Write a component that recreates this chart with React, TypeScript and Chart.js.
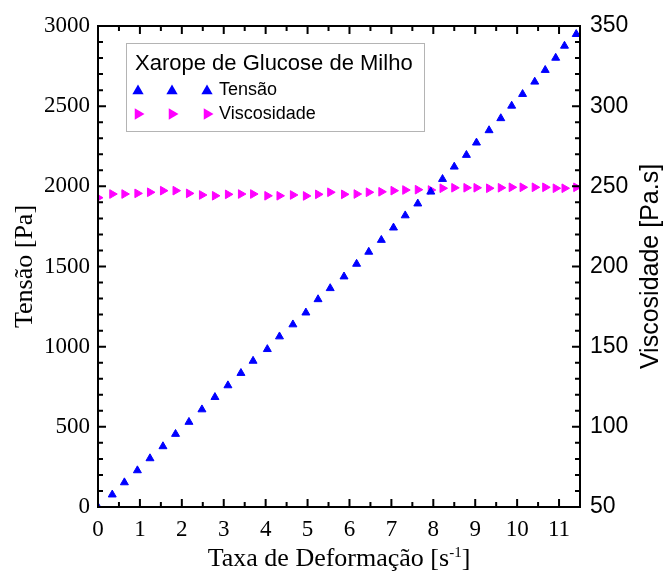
import React, { useEffect, useRef } from 'react';
import { Chart, registerables } from 'chart.js';

Chart.register(...registerables);

// ---- data ----
const shearRate = [
  0, 0.34, 0.63, 0.94, 1.24, 1.55, 1.85, 2.17, 2.48, 2.79,
  3.1, 3.41, 3.7, 4.04, 4.33, 4.65, 4.96, 5.25, 5.54, 5.87,
  6.17, 6.46, 6.76, 7.05, 7.33, 7.63, 7.94, 8.22, 8.5, 8.79,
  9.03, 9.33, 9.61, 9.87, 10.13, 10.42, 10.67, 10.92, 11.13, 11.41,
];
const tensao = [
  0, 77, 153, 228, 303, 378, 455, 530, 608, 685,
  758, 835, 911, 984, 1063, 1138, 1212, 1295, 1364, 1437,
  1516, 1591, 1665, 1742, 1818, 1892, 1966, 2045, 2122, 2195,
  2272, 2349, 2424, 2502, 2575, 2652, 2725, 2801, 2876, 2949,
];
const viscosidade = [
  242.9, 245.2, 245.2, 245.6, 246.3, 247.3, 247.3, 245.6, 244.6, 244.1,
  245.0, 245.2, 245.2, 244.1, 244.1, 244.6, 244.0, 245.0, 246.3, 245.0,
  245.2, 246.3, 246.6, 247.3, 247.7, 247.9, 247.7, 248.8, 249.1, 249.1,
  249.1, 248.8, 249.1, 249.4, 249.4, 249.4, 249.4, 248.8, 248.8, 249.4,
];

const xTickValues = [0, 1, 2, 3, 4, 5, 6, 7, 8, 9, 10, 11];
const yTickValues = [0, 500, 1000, 1500, 2000, 2500, 3000];
const y1TickValues = [50, 100, 150, 200, 250, 300, 350];

const legendTitle = 'Xarope de Glucose de Milho';
const seriesNames = ['Tensão', 'Viscosidade'];
const xTitle = 'Taxa de Deformação [s';
const xTitleSup = '-1';
const yTitle = 'Tensão [Pa]';
const y1Title = 'Viscosidade [Pa.s]';

const SERIF = "'Liberation Serif', 'Times New Roman', serif";
const SANS = "'Liberation Sans', Arial, sans-serif";
const BLUE = '#0000ff';
const MAGENTA = '#ff00ff';

function tri(ctx: CanvasRenderingContext2D, x: number, y: number, r: number, rotDeg: number, color: string) {
  let rad = (rotDeg * Math.PI) / 180;
  ctx.beginPath();
  ctx.moveTo(x + Math.sin(rad) * r, y - Math.cos(rad) * r);
  rad += (2 * Math.PI) / 3;
  ctx.lineTo(x + Math.sin(rad) * r, y - Math.cos(rad) * r);
  rad += (2 * Math.PI) / 3;
  ctx.lineTo(x + Math.sin(rad) * r, y - Math.cos(rad) * r);
  ctx.closePath();
  ctx.fillStyle = color;
  ctx.fill();
}

const framePlugin = {
  id: 'frameAndDecor',
  afterDraw(chart: any) {
    const { ctx, chartArea } = chart;
    const { left, right, top, bottom } = chartArea;
    const xs = chart.scales.x;
    const ys = chart.scales.y;
    const y1s = chart.scales.y1;
    ctx.save();
    ctx.strokeStyle = '#000';
    ctx.lineWidth = 2;
    ctx.lineCap = 'butt';
    const MAJ = 8;
    const MIN = 5;
    ctx.beginPath();
    for (let v = 0; v <= 11.5 + 1e-9; v += 0.5) {
      const px = xs.getPixelForValue(v);
      const len = Math.abs(v - Math.round(v)) < 1e-6 ? MAJ : MIN;
      ctx.moveTo(px, bottom);
      ctx.lineTo(px, bottom - len);
      ctx.moveTo(px, top);
      ctx.lineTo(px, top + len);
    }
    for (let v = 0; v <= 3000; v += 100) {
      const py = ys.getPixelForValue(v);
      const len = v % 500 === 0 ? MAJ : MIN;
      ctx.moveTo(left, py);
      ctx.lineTo(left + len, py);
    }
    for (let v = 50; v <= 350; v += 10) {
      const py = y1s.getPixelForValue(v);
      const len = v % 50 === 0 ? MAJ : MIN;
      ctx.moveTo(right, py);
      ctx.lineTo(right - len, py);
    }
    ctx.stroke();
    ctx.strokeRect(left, top, right - left, bottom - top);

    ctx.fillStyle = '#000';
    const mainFont = `26px ${SERIF}`;
    const supFont = `15px ${SERIF}`;
    ctx.font = mainFont;
    const w1 = ctx.measureText(xTitle).width;
    const wEnd = ctx.measureText(']').width;
    ctx.font = supFont;
    const w2 = ctx.measureText(xTitleSup).width;
    const total = w1 + w2 + wEnd;
    const cx = (left + right) / 2;
    let tx = cx - total / 2;
    const baseY = 566;
    ctx.textBaseline = 'alphabetic';
    ctx.textAlign = 'left';
    ctx.font = mainFont;
    ctx.fillText(xTitle, tx, baseY);
    tx += w1;
    ctx.font = supFont;
    ctx.fillText(xTitleSup, tx, baseY - 9);
    tx += w2;
    ctx.font = mainFont;
    ctx.fillText(']', tx, baseY);

    const cy = (top + bottom) / 2;
    ctx.save();
    ctx.translate(32, cy);
    ctx.rotate(-Math.PI / 2);
    ctx.font = `26px ${SERIF}`;
    ctx.textAlign = 'center';
    ctx.textBaseline = 'alphabetic';
    ctx.fillText(yTitle, 0, 0);
    ctx.restore();
    ctx.save();
    ctx.translate(658, cy);
    ctx.rotate(-Math.PI / 2);
    ctx.font = `25px ${SANS}`;
    ctx.textAlign = 'center';
    ctx.textBaseline = 'alphabetic';
    ctx.fillText(y1Title, 0, 0);
    ctx.restore();

    const bx = 126, by = 43, bw = 298, bh = 88;
    ctx.fillStyle = '#fff';
    ctx.fillRect(bx, by, bw, bh);
    ctx.strokeStyle = '#b4b4b4';
    ctx.lineWidth = 1;
    ctx.strokeRect(bx + 0.5, by + 0.5, bw, bh);
    ctx.fillStyle = '#000';
    ctx.font = `22px ${SANS}`;
    ctx.textAlign = 'left';
    ctx.textBaseline = 'middle';
    ctx.fillText(legendTitle, 135, 64);
    const mx = [138, 172, 207];
    const rows = [
      { y: 90, color: BLUE, rot: 0, name: seriesNames[0] },
      { y: 114, color: MAGENTA, rot: 90, name: seriesNames[1] },
    ];
    for (const r of rows) {
      for (const m of mx) tri(ctx, m, r.y + (r.rot === 0 ? 1 : 0), 6.5, r.rot, r.color);
      ctx.fillStyle = '#000';
      ctx.font = `18px ${SANS}`;
      ctx.fillText(r.name, 219, r.y);
    }
    ctx.restore();
  },
};

const plainLabel = (v: any) => String(v);

export default function App() {
  const ref = useRef<HTMLCanvasElement>(null);
  useEffect(() => {
    const canvas = ref.current;
    if (!canvas) return;
    const chart = new Chart(canvas, {
      type: 'scatter',
      data: {
        datasets: [
          {
            label: seriesNames[0],
            data: shearRate.map((x, i) => ({ x, y: tensao[i] })),
            yAxisID: 'y',
            showLine: false,
            pointStyle: 'triangle',
            pointRadius: 4.6,
            pointBorderWidth: 1,
            backgroundColor: BLUE,
            borderColor: BLUE,
            clip: 0,
          } as any,
          {
            label: seriesNames[1],
            data: shearRate.map((x, i) => ({ x, y: viscosidade[i] })),
            yAxisID: 'y1',
            showLine: false,
            pointStyle: 'triangle',
            pointRotation: 90,
            pointRadius: 5,
            pointBorderWidth: 1,
            backgroundColor: MAGENTA,
            borderColor: MAGENTA,
            clip: 0,
          } as any,
        ],
      },
      options: {
        animation: false,
        responsive: false,
        devicePixelRatio: 1,
        layout: { padding: { top: 26, left: 0, right: 0, bottom: 0 } },
        plugins: { legend: { display: false }, tooltip: { enabled: false } },
        scales: {
          x: {
            type: 'linear',
            position: 'bottom',
            min: 0,
            max: 11.5,
            afterBuildTicks: (s: any) => {
              s.ticks = xTickValues.map((v) => ({ value: v }));
            },
            afterFit: (s: any) => {
              s.height = 65;
            },
            grid: { display: false, drawTicks: false },
            border: { display: false },
            ticks: {
              font: { family: SERIF, size: 23 },
              color: '#000',
              padding: 9,
              maxRotation: 0,
              autoSkip: false,
              callback: plainLabel,
            },
          },
          y: {
            type: 'linear',
            position: 'left',
            min: 0,
            max: 3000,
            afterBuildTicks: (s: any) => {
              s.ticks = yTickValues.map((v) => ({ value: v }));
            },
            afterFit: (s: any) => {
              s.width = 98;
            },
            grid: { display: false, drawTicks: false },
            border: { display: false },
            ticks: {
              font: { family: SERIF, size: 23 },
              color: '#000',
              padding: 8,
              autoSkip: false,
              callback: plainLabel,
            },
          },
          y1: {
            type: 'linear',
            position: 'right',
            min: 50,
            max: 350,
            afterBuildTicks: (s: any) => {
              s.ticks = y1TickValues.map((v) => ({ value: v }));
            },
            afterFit: (s: any) => {
              s.width = 84;
            },
            grid: { display: false, drawTicks: false },
            border: { display: false },
            ticks: {
              font: { family: SANS, size: 23 },
              color: '#000',
              padding: 10,
              autoSkip: false,
              callback: plainLabel,
            },
          },
        },
      } as any,
      plugins: [framePlugin],
    });
    return () => chart.destroy();
  }, []);
  return (
    <div style={{ position: 'fixed', left: 0, top: 0, width: 664, height: 572, background: '#fff' }}>
      <canvas ref={ref} width={664} height={572} style={{ display: 'block' }} />
    </div>
  );
}
